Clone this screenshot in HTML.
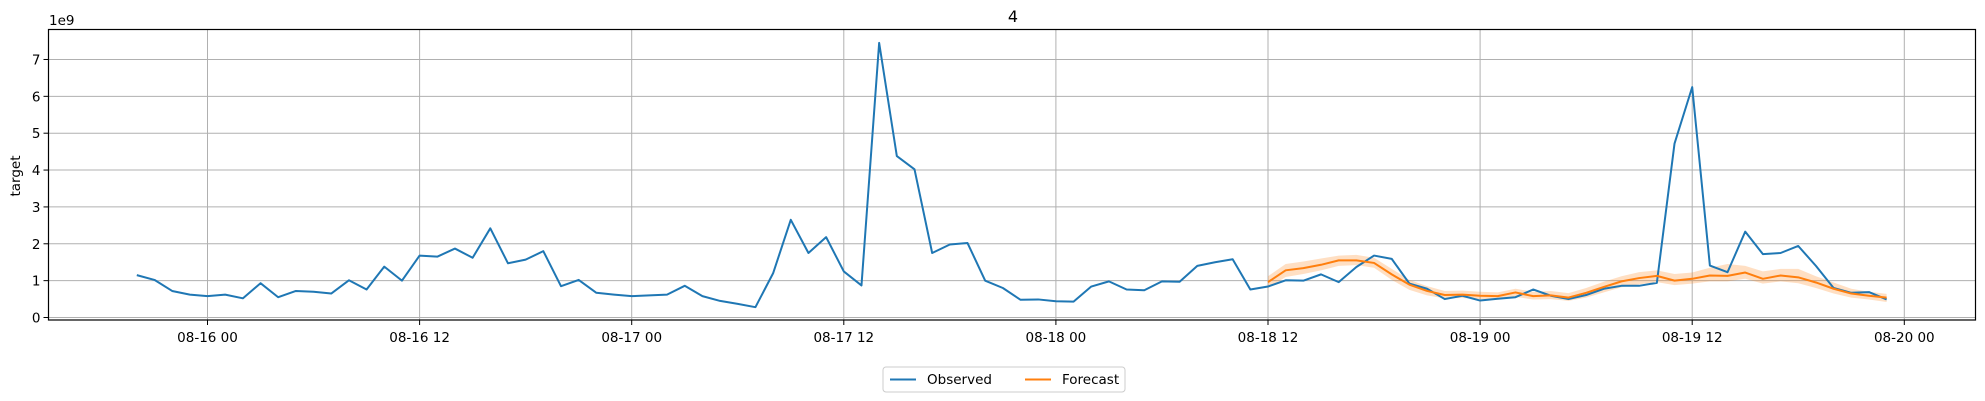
<!DOCTYPE html>
<html><head><meta charset="utf-8"><style>
html,body{margin:0;padding:0;background:#fff;width:1985px;height:401px;overflow:hidden}
svg{display:block;font-family:"DejaVu Sans","Liberation Sans",sans-serif}
</style></head><body>
<svg id="chart" width="1985" height="401" viewBox="0 0 1985 401" xmlns="http://www.w3.org/2000/svg">
<g id="grid"></g>
<g id="marks"></g>
<rect x="48.5" y="29.5" width="1927" height="290.5" fill="none" stroke="#000" stroke-width="1.2"/>
<g id="axes"></g>
<text x="1013" y="22" font-size="16" text-anchor="middle">4</text>
<text x="20" y="176" font-size="13.5" text-anchor="middle" transform="rotate(-90 20 176)">target</text>
<text x="49" y="25" font-size="13.5">1e9</text>
<g>
<rect x="883" y="367" width="242" height="25" rx="3" fill="#fff" stroke="#ccc"/>
<g><line x1="890" y1="379.5" x2="916" y2="379.5" stroke="#1f77b4" stroke-width="2"/><text x="927" y="384" font-size="13.5">Observed</text></g>
<g><line x1="1025" y1="379.5" x2="1051" y2="379.5" stroke="#ff7f0e" stroke-width="2"/><text x="1062" y="384" font-size="13.5">Forecast</text></g>
</g>
</svg>
<script>
const observed = [1.15,1.02,0.72,0.62,0.58,0.62,0.52,0.93,0.55,0.72,0.70,0.65,1.01,0.76,1.38,1.00,1.68,1.65,1.87,1.62,2.42,1.47,1.57,1.80,0.85,1.02,0.67,0.62,0.58,0.60,0.62,0.86,0.58,0.45,0.37,0.28,1.20,2.65,1.75,2.18,1.25,0.87,7.45,4.38,4.02,1.75,1.98,2.02,1.00,0.80,0.48,0.49,0.44,0.43,0.84,0.98,0.76,0.74,0.98,0.97,1.40,1.50,1.58,0.76,
0.84,1.01,1.00,1.17,0.96,1.37,1.68,1.59,0.92,0.78,0.50,0.59,0.46,0.51,0.55,0.76,0.59,0.50,0.61,0.78,0.86,0.86,0.94,4.72,6.25,1.41,1.23,2.33,1.72,1.75,1.94,1.40,0.80,0.67,0.69,0.49];
const observedStartHour = -4; // hours relative to 08-16 00
const forecast = [0.96,1.28,1.34,1.43,1.55,1.55,1.48,1.17,0.89,0.72,0.61,0.62,0.59,0.58,0.68,0.58,0.60,0.54,0.67,0.83,0.98,1.07,1.13,1.00,1.05,1.14,1.13,1.22,1.05,1.14,1.09,0.95,0.78,0.65,0.59,0.54];
const forecastLow = [0.80,1.10,1.18,1.28,1.40,1.42,1.35,1.02,0.75,0.60,0.52,0.53,0.50,0.49,0.56,0.49,0.50,0.45,0.54,0.68,0.82,0.90,0.96,0.88,0.92,0.98,0.98,1.05,0.92,0.98,0.93,0.80,0.65,0.54,0.49,0.42];
const forecastHigh = [1.12,1.45,1.52,1.60,1.68,1.70,1.62,1.32,1.02,0.85,0.72,0.73,0.70,0.68,0.78,0.70,0.72,0.66,0.80,0.97,1.12,1.23,1.28,1.18,1.22,1.35,1.45,1.40,1.25,1.32,1.32,1.12,0.95,0.78,0.70,0.64];
const forecastStartHour = 60;
const yTicks = [0,1,2,3,4,5,6,7];
const xTickHours = [0,12,24,36,48,60,72,84,96];
const xTickLabels = ["08-16 00","08-16 12","08-17 00","08-17 12","08-18 00","08-18 12","08-19 00","08-19 12","08-20 00"];

const NS="http://www.w3.org/2000/svg";
const X0=48.5,X1=1975.5,Y0=29.5,Y1=320;
function xs(h){return 207.5+h*17.675;}
function ys(v){return 317.5-v*36.86;}
function mk(tag,attrs,parent){const e=document.createElementNS(NS,tag);for(const k in attrs)e.setAttribute(k,attrs[k]);parent.appendChild(e);return e;}
const grid=document.getElementById('grid'),marks=document.getElementById('marks'),axes=document.getElementById('axes');
yTicks.forEach(t=>{const y=ys(t);
 const g=mk('line',{x1:X0,x2:X1,y1:y,y2:y,stroke:'#b0b0b0','stroke-width':1},grid);
 
 
 mk('line',{x1:X0-5,x2:X0,y1:y,y2:y,stroke:'#000'},axes);
 const tx=mk('text',{x:X0-8,y:y+5,'font-size':13.5,'text-anchor':'end'},axes);tx.textContent=t;
 
 
});
xTickHours.forEach((h,i)=>{const x=xs(h);
 const g=mk('line',{x1:x,x2:x,y1:Y0,y2:Y1,stroke:'#b0b0b0','stroke-width':1},grid);
 
 
 mk('line',{x1:x,x2:x,y1:Y1,y2:Y1+5,stroke:'#000'},axes);
 const tx=mk('text',{x:x,y:Y1+22,'font-size':13.5,'text-anchor':'middle'},axes);tx.textContent=xTickLabels[i];
 
 
});
let band='';forecastHigh.forEach((v,i)=>{band+=(i?'L':'M')+xs(forecastStartHour+i)+' '+ys(v);});
for(let i=forecastLow.length-1;i>=0;i--)band+='L'+xs(forecastStartHour+i)+' '+ys(forecastLow[i]);
const b=mk('path',{d:band+'Z',fill:'#ff7f0e','fill-opacity':0.25,stroke:'none'},marks);


const po=mk('polyline',{points:observed.map((v,i)=>xs(observedStartHour+i)+','+ys(v)).join(' '),fill:'none',stroke:'#1f77b4','stroke-width':2,'stroke-linejoin':'round'},marks);


const pf=mk('polyline',{points:forecast.map((v,i)=>xs(forecastStartHour+i)+','+ys(v)).join(' '),fill:'none',stroke:'#ff7f0e','stroke-width':2,'stroke-linejoin':'round'},marks);


</script>
</body></html>
